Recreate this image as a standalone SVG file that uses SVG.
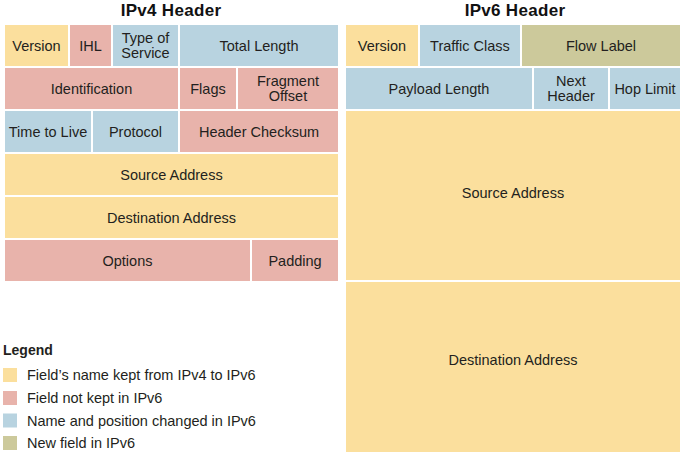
<svg xmlns="http://www.w3.org/2000/svg" width="683" height="456" viewBox="0 0 683 456">
<style>
text{font-family:"Liberation Sans",Arial,Helvetica,sans-serif;fill:#231f20;font-size:14.5px;text-anchor:middle}
.t{font-size:17px;font-weight:bold;fill:#111;letter-spacing:0.3px}
.lg{font-weight:bold;text-anchor:start;font-size:14px}
.li{text-anchor:start}
.y{fill:#FBDF9D}
.p{fill:#E8B3AB}
.b{fill:#B8D3E0}
.o{fill:#CCC99B}
</style>
<rect width="683" height="456" fill="#fff"/>
<text class="t" x="171" y="15.5">IPv4 Header</text>
<text class="t" x="515" y="15.5">IPv6 Header</text>

<g id="ipv4">
<g id="v4-version"><rect class="y" x="5" y="25" width="63" height="41"/><text x="36.5" y="50.5">Version</text></g>
<g id="v4-ihl"><rect class="p" x="70" y="25" width="41" height="41"/><text x="90.5" y="50.5">IHL</text></g>
<g id="v4-tos"><rect class="b" x="113" y="25" width="65" height="41"/><text x="145.5" y="42.5">Type of</text><text x="145.5" y="58">Service</text></g>
<g id="v4-totallength"><rect class="b" x="180" y="25" width="158" height="41"/><text x="259" y="50.5">Total Length</text></g>
<g id="v4-identification"><rect class="p" x="5" y="68" width="173" height="41"/><text x="91.5" y="93.5">Identification</text></g>
<g id="v4-flags"><rect class="p" x="180" y="68" width="56" height="41"/><text x="208" y="93.5">Flags</text></g>
<g id="v4-fragoffset"><rect class="p" x="238" y="68" width="100" height="41"/><text x="288" y="85.5">Fragment</text><text x="288" y="101">Offset</text></g>
<g id="v4-ttl"><rect class="b" x="5" y="111" width="86" height="41"/><text x="48" y="136.5">Time to Live</text></g>
<g id="v4-protocol"><rect class="b" x="93" y="111" width="85" height="41"/><text x="135.5" y="136.5">Protocol</text></g>
<g id="v4-checksum"><rect class="p" x="180" y="111" width="158" height="41"/><text x="259" y="136.5">Header Checksum</text></g>
<g id="v4-source"><rect class="y" x="5" y="154" width="333" height="41"/><text x="171.5" y="179.5">Source Address</text></g>
<g id="v4-destination"><rect class="y" x="5" y="197" width="333" height="41"/><text x="171.5" y="222.5">Destination Address</text></g>
<g id="v4-options"><rect class="p" x="5" y="240" width="245" height="41"/><text x="127.5" y="265.5">Options</text></g>
<g id="v4-padding"><rect class="p" x="252" y="240" width="86" height="41"/><text x="295" y="265.5">Padding</text></g>
</g>

<g id="ipv6">
<g id="v6-version"><rect class="y" x="346" y="25" width="72" height="41"/><text x="382" y="50.5">Version</text></g>
<g id="v6-trafficclass"><rect class="b" x="420" y="25" width="100" height="41"/><text x="470" y="50.5">Traffic Class</text></g>
<g id="v6-flowlabel"><rect class="o" x="522" y="25" width="158" height="41"/><text x="601" y="50.5">Flow Label</text></g>
<g id="v6-payloadlength"><rect class="b" x="346" y="68" width="186" height="41"/><text x="439" y="93.5">Payload Length</text></g>
<g id="v6-nextheader"><rect class="b" x="534" y="68" width="74" height="41"/><text x="571" y="85.5">Next</text><text x="571" y="101">Header</text></g>
<g id="v6-hoplimit"><rect class="b" x="610" y="68" width="70" height="41"/><text x="645" y="93.5">Hop Limit</text></g>
<g id="v6-source"><rect class="y" x="346" y="111" width="334" height="169"/><text x="513" y="198">Source Address</text></g>
<g id="v6-destination"><rect class="y" x="346" y="282" width="334" height="170"/><text x="513" y="364.5">Destination Address</text></g>
</g>

<g id="legend">
<text class="lg" x="3" y="355">Legend</text>
<g id="legend-kept"><rect class="y" x="3" y="368" width="14" height="14"/><text class="li" x="27" y="380">Field’s name kept from IPv4 to IPv6</text></g>
<g id="legend-notkept"><rect class="p" x="3" y="391" width="14" height="14"/><text class="li" x="27" y="403">Field not kept in IPv6</text></g>
<g id="legend-changed"><rect class="b" x="3" y="413.5" width="14" height="14"/><text class="li" x="27" y="425.5">Name and position changed in IPv6</text></g>
<g id="legend-new"><rect class="o" x="3" y="436" width="14" height="14"/><text class="li" x="27" y="448">New field in IPv6</text></g>
</g>
</svg>
